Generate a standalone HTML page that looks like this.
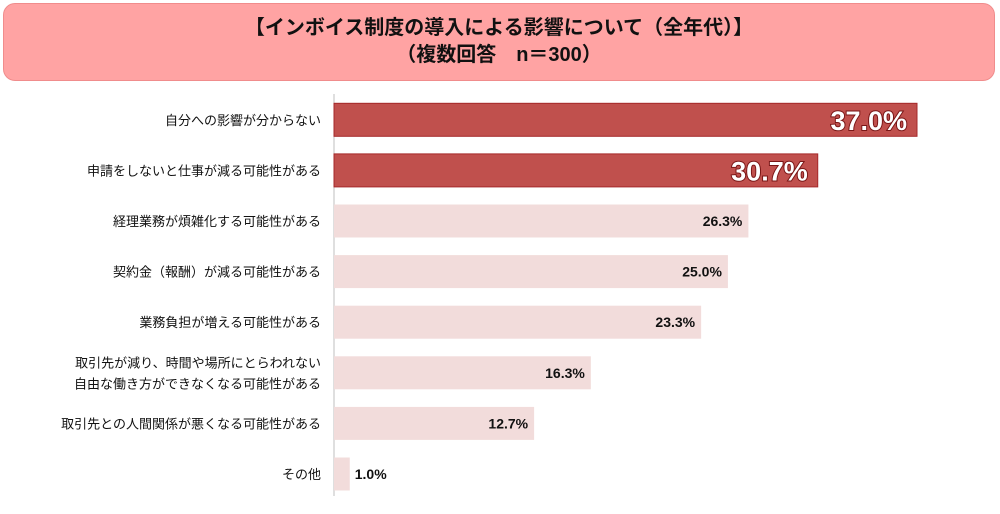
<!DOCTYPE html>
<html><head><meta charset="utf-8"><style>
body{margin:0;background:#fff;width:1000px;height:514px;overflow:hidden;font-family:"Liberation Sans","Noto Sans CJK JP",sans-serif;}
#title{position:absolute;left:3px;top:3px;width:992px;height:78px;background:#ffa3a3;border:1px solid #f08c8c;border-radius:12px;text-align:center;font-weight:bold;font-size:20px;line-height:27px;color:#111;box-sizing:border-box;padding-top:11px;}
</style></head><body>
<div id="title">【インボイス制度の導入による影響について（全年代）】<br>（複数回答　n＝300）</div>
<svg id="chart" width="1000" height="514" style="position:absolute;left:0;top:0"></svg>
<script>
const categories=[["自分への影響が分からない"],["申請をしないと仕事が減る可能性がある"],["経理業務が煩雑化する可能性がある"],["契約金（報酬）が減る可能性がある"],["業務負担が増える可能性がある"],["取引先が減り、時間や場所にとらわれない","自由な働き方ができなくなる可能性がある"],["取引先との人間関係が悪くなる可能性がある"],["その他"]];
const values=[37.0,30.7,26.3,25.0,23.3,16.3,12.7,1.0];
const highlight=[true,true,false,false,false,false,false,false];
const svg=document.getElementById('chart');const NS='http://www.w3.org/2000/svg';
const x0=334,pxPer=583/37,top0=94.5,pitch=50.6,barH=33;
const xs=v=>x0+v*pxPer;const yc=i=>top0+pitch*(i+0.5);
function mk(t,a){const e=document.createElementNS(NS,t);for(const k in a)e.setAttribute(k,a[k]);svg.appendChild(e);return e;}
const ax=mk('line',{x1:x0,x2:x0,y1:94,y2:496,stroke:'#bfbfbf','stroke-width':1});


values.forEach((v,i)=>{
 const c=yc(i);
 const r=mk('rect',{x:x0,y:c-barH/2,width:xs(v)-x0,height:barH,fill:highlight[i]?'#c0504d':'#f2dcdb',stroke:highlight[i]?'#a5282a':'none','stroke-width':1});
 
 
 const lines=categories[i];
 lines.forEach((s,j)=>{
  const t=mk('text',{x:321,y:c+5+(j-(lines.length-1)/2)*21,'text-anchor':'end','font-size':13,fill:'#111'});t.textContent=s;
  
  
 });
 const lab=v.toFixed(1)+'%';
 let t;
 if(highlight[i]){t=mk('text',{x:xs(v)-10,y:c+10,'text-anchor':'end','font-size':27,'font-weight':'bold',fill:'#fff',stroke:'#7a1616','stroke-width':2,'paint-order':'stroke'});}
 else if(v>5){t=mk('text',{x:xs(v)-6,y:c+5,'text-anchor':'end','font-size':14,'font-weight':'bold',fill:'#111'});}
 else{t=mk('text',{x:xs(v)+5,y:c+5,'font-size':14,'font-weight':'bold',fill:'#111'});}
 t.textContent=lab;
 
 
});
</script>
</body></html>
